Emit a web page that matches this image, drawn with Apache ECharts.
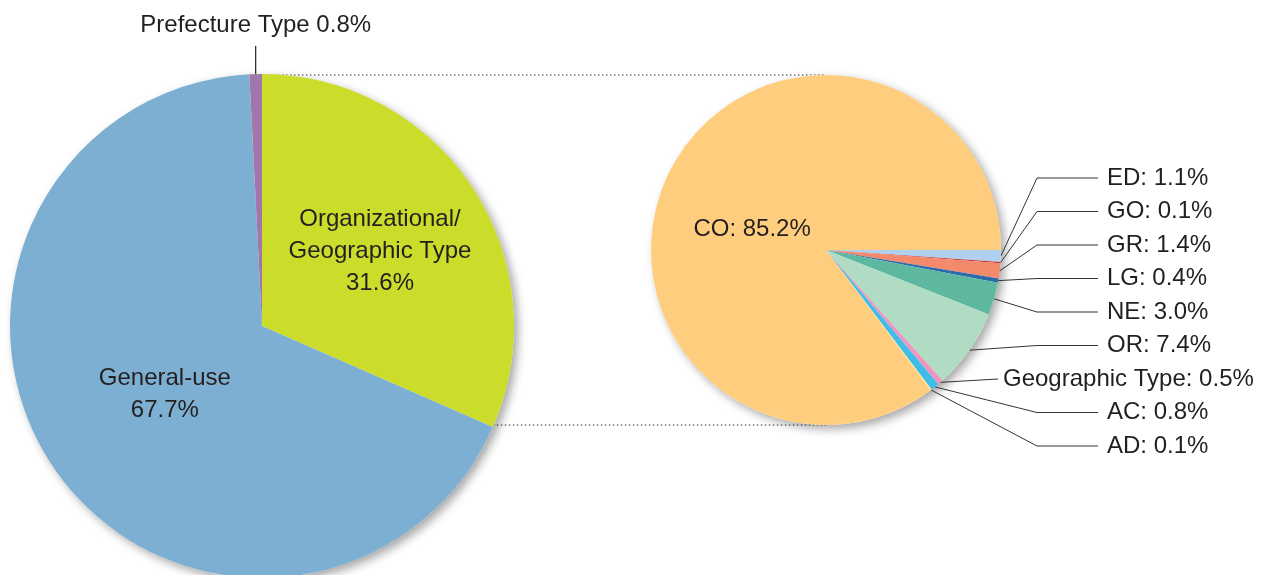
<!DOCTYPE html>
<html><head><meta charset="utf-8">
<script src="https://cdn.jsdelivr.net/npm/echarts@6/dist/echarts.min.js"></script>
<style>html,body{margin:0;padding:0;background:#fff}#c{width:1264px;height:575px}</style>
</head><body><div id="c"></div>
<script>
// ---- data ----
const mainCategories = ['Organizational/\nGeographic Type', 'General-use', 'Prefecture Type'];
const mainValues = [31.6, 67.7, 0.8];
const detailCategories = ['ED', 'GO', 'GR', 'LG', 'NE', 'OR', 'Geographic Type', 'AC', 'AD', 'CO'];
const detailValues = [1.1, 0.1, 1.4, 0.4, 3.0, 7.4, 0.5, 0.8, 0.1, 85.2];

// ---- styles / layout ----
const mainColors = ['#cbdc2b', '#7dafd2', '#a077aa'];
const detailColors = ['#b0d0ef', '#cf2a2e', '#f38a6c', '#2c6aa9', '#5eb79f', '#b0dcc3', '#ee96bf', '#40bce9', '#f7ec88', '#fece7e'];
const FONT = '"Liberation Sans", Arial, Helvetica, sans-serif';
const TXT = '#231f20';
const FS = 24;
const C1 = [262, 326], R1 = 252;
const C2 = [826, 250], R2 = 175;
const pct = v => Number(v).toFixed(1) + '%';

const chart = echarts.init(document.getElementById('c'), null, {renderer: 'canvas'});

const mainData = mainCategories.map((n, i) => {
  const d = {name: n, value: mainValues[i], itemStyle: {color: mainColors[i]}};
  if (i === 2) {
    d.label = {position: 'outside', formatter: p => p.name + ' ' + pct(p.value)};
    d.labelLine = {show: true, lineStyle: {color: '#222', width: 1.2}};
  } else {
    d.label = {position: 'inside', formatter: p => p.name + '\n' + pct(p.value), align: 'center', lineHeight: 32};
    d.labelLine = {show: false};
  }
  return d;
});

const detailData = detailCategories.map((n, i) => {
  const d = {name: n, value: detailValues[i], itemStyle: {color: detailColors[i]}};
  if (n === 'CO') {
    d.label = {position: 'inside'};
    d.labelLine = {show: false};
  } else {
    d.label = {position: 'outside'};
    d.labelLine = {show: true, length: 10, length2: 10, lineStyle: {color: '#333', width: 1}};
  }
  return d;
});

// connector lines between pies
const orgAngle = (90 - mainValues[0] / mainValues.reduce((a, b) => a + b, 0) * 360) * Math.PI / 180;
const topL = [C1[0], C1[1] - R1];
const botL = [C1[0] + R1 * Math.cos(orgAngle), C1[1] - R1 * Math.sin(orgAngle)];
const dotted = {stroke: '#777', lineWidth: 1.5, lineDash: [1.5, 2.5]};

const backdrop = (c, r) => ({
  type: 'pie', center: c, radius: r, silent: true, z: 1,
  data: [{value: 1, itemStyle: {color: '#fff'}}],
  label: {show: false}, labelLine: {show: false},
  itemStyle: {shadowBlur: 10, shadowColor: 'rgba(0,0,0,0.35)', shadowOffsetX: 4, shadowOffsetY: 4},
  animation: false
});

chart.setOption({
  animation: false,
  graphic: [
    {type: 'line', z: 0, shape: {x1: topL[0], y1: topL[1] + 1, x2: C2[0], y2: C2[1] - R2}, style: dotted},
    {type: 'line', z: 0, shape: {x1: botL[0], y1: C2[1] + R2, x2: C2[0], y2: C2[1] + R2}, style: dotted}
  ],
  series: [
    backdrop(C1, R1),
    backdrop(C2, R2),
    {
      type: 'pie', center: C1, radius: R1, startAngle: 90, clockwise: true, z: 2,
      avoidLabelOverlap: false,
      itemStyle: {borderWidth: 0},
      label: {fontSize: FS, fontFamily: FONT, color: TXT},
      emphasis: {disabled: true},
      data: mainData,
      labelLayout: function (p) {
        if (p.dataIndex === 2 && p.labelLinePoints) {
          const s = p.labelLinePoints[0];
          return {x: s[0], y: 25, align: 'center', verticalAlign: 'middle',
            labelLinePoints: [[s[0], s[1]], [s[0], 46], [s[0], 46]]};
        }
        if (p.dataIndex === 0) return {dx: 10, dy: -4};
        if (p.dataIndex === 1) return {dx: 9, dy: -5};
        return {};
      }
    },
    {
      type: 'pie', center: C2, radius: R2, startAngle: 0, clockwise: true, z: 2,
      avoidLabelOverlap: false,
      itemStyle: {borderWidth: 0},
      label: {fontSize: FS, fontFamily: FONT, color: TXT, formatter: p => p.name + ': ' + pct(p.value)},
      emphasis: {disabled: true},
      data: detailData,
      labelLayout: function (p) {
        const i = p.dataIndex;
        if (i === 9) return {dx: 7, dy: 20};
        if (!p.labelLinePoints) return {};
        const s = p.labelLinePoints[0];
        const y = 178 + i * 33.5;
        if (detailCategories[i] === 'Geographic Type') {
          return {x: 1003, y: y, align: 'left', verticalAlign: 'middle',
            labelLinePoints: [[s[0], s[1]], [998, y], [998, y]]};
        }
        return {x: 1107, y: y, align: 'left', verticalAlign: 'middle',
          labelLinePoints: [[s[0], s[1]], [1037, y], [1098, y]]};
      }
    }
  ]
});
</script></body></html>
